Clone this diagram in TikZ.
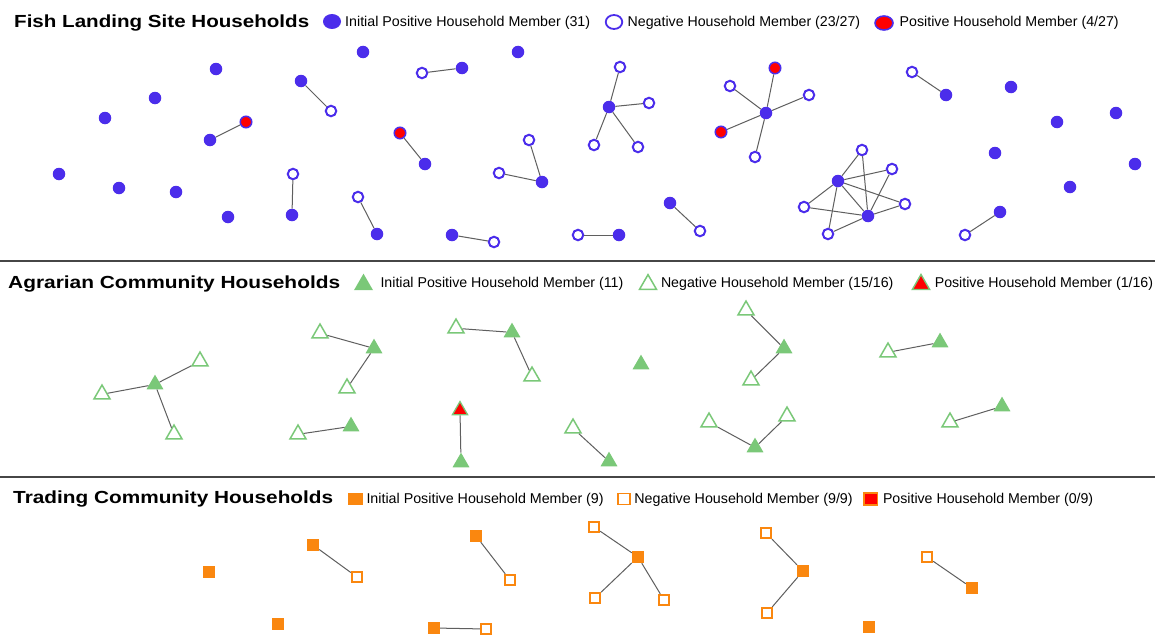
\documentclass[tikz,border=0pt]{standalone}
\usepackage{graphicx}
\usepackage{fontspec}
\setmainfont{Liberation Sans}
\usetikzlibrary{shapes.geometric}
\definecolor{fblue}{RGB}{75,45,235}
\definecolor{agreen}{RGB}{122,200,120}
\definecolor{torange}{RGB}{250,135,15}
\definecolor{edgegray}{RGB}{95,95,95}
\definecolor{rulegray}{RGB}{70,70,70}
\newcommand{\ttl}[2]{\resizebox{#1pt}{\height}{\fontsize{17.5}{20}\selectfont\bfseries #2}}
\newcommand{\lgd}[2]{\resizebox{#1pt}{\height}{\fontsize{14.2}{17}\selectfont #2}}
\begin{document}
\begin{tikzpicture}[x=1pt,y=-1pt,
  fpos/.style={circle,fill=fblue,inner sep=0,minimum size=12.5pt},
  fneg/.style={circle,draw=fblue,fill=white,line width=2pt,inner sep=0,minimum size=10.5pt},
  fred/.style={circle,fill=red,draw=fblue,line width=1.5pt,inner sep=0,minimum size=11.5pt},
  apos/.style={regular polygon,regular polygon sides=3,fill=agreen,inner sep=0,minimum size=19.5pt,yshift=-2.4pt},
  aneg/.style={regular polygon,regular polygon sides=3,draw=agreen,fill=white,line width=1.5pt,inner sep=0,minimum size=18.5pt,yshift=-2.3pt},
  ared/.style={regular polygon,regular polygon sides=3,fill=red,draw=agreen,line width=1.3pt,inner sep=0,minimum size=17.5pt,yshift=-2.3pt},
  tpos/.style={rectangle,fill=torange,inner sep=0,minimum size=12pt},
  tneg/.style={rectangle,draw=torange,fill=white,line width=1.8pt,inner sep=0,minimum size=10.5pt},
  tred/.style={rectangle,fill=red,draw=torange,line width=1.5pt,inner sep=0},
  link/.style={draw=edgegray,line width=1pt},
  ttlnode/.style={anchor=base west,inner sep=0},
  lgdnode/.style={anchor=base west,inner sep=0}]
\useasboundingbox (0,0) rectangle (1155,634);
\fill[white] (0,0) rectangle (1155,634);

% dividers
\coordinate (d1l) at (0,261); \coordinate (d1r) at (1155,261);
\coordinate (d2l) at (0,477); \coordinate (d2r) at (1155,477);
\draw[rulegray,line width=2pt] (d1l) -- (d1r);
\draw[rulegray,line width=2pt] (d2l) -- (d2r);

% ---------------- Fish section header ----------------
\node[ttlnode] (tfish) at (14,28) {\ttl{295}{Fish Landing Site Households}};
\node[ellipse,fill=fblue,inner sep=0,minimum width=18pt,minimum height=15pt] (lf1) at (332,21.5) {};
\node[lgdnode] (lft1) at (345,27) {\lgd{245}{Initial Positive Household Member (31)}};
\node[ellipse,draw=fblue,fill=white,line width=1.8pt,inner sep=0,minimum width=16.5pt,minimum height=14pt] (lf2) at (614,22) {};
\node[lgdnode] (lft2) at (627.5,27) {\lgd{232.5}{Negative Household Member (23/27)}};
\node[ellipse,fill=red,draw=fblue,line width=1.6pt,inner sep=0,minimum width=18pt,minimum height=14pt] (lf3) at (884,23) {};
\node[lgdnode] (lft3) at (899.5,27) {\lgd{219}{Positive Household Member (4/27)}};

% ---------------- Fish nodes ----------------
\node[fpos] (f1) at (363,52) {};
\node[fpos] (f2) at (518,52) {};
\node[fpos] (f3) at (216,69) {};
\node[fneg] (f4n) at (422,73) {};
\node[fpos] (f4) at (462,68) {};
\node[fpos] (f5) at (301,81) {};
\node[fneg] (f5n) at (331,111) {};
\node[fpos] (f6) at (155,98) {};
\node[fpos] (f7) at (105,118) {};
\node[fred] (f8r) at (246,122) {};
\node[fpos] (f8) at (210,140) {};
\node[fred] (f9r) at (400,133) {};
\node[fpos] (f9) at (425,164) {};
\node[fneg] (f10a) at (529,140) {};
\node[fpos] (f10) at (542,182) {};
\node[fneg] (f10b) at (499,173) {};
\node[fpos] (f11) at (59,174) {};
\node[fpos] (f12) at (119,188) {};
\node[fpos] (f13) at (176,192) {};
\node[fneg] (f14n) at (293,174) {};
\node[fpos] (f14) at (292,215) {};
\node[fpos] (f15) at (228,217) {};
\node[fneg] (f16n) at (358,197) {};
\node[fpos] (f16) at (377,234) {};
\node[fpos] (f17) at (452,235) {};
\node[fneg] (f17n) at (494,242) {};
\node[fneg] (f18n) at (578,235) {};
\node[fpos] (f18) at (619,235) {};
\node[fpos] (f19) at (670,203) {};
\node[fneg] (f19n) at (700,231) {};
\node[fpos] (s1) at (609,107) {};
\node[fneg] (s1a) at (620,67) {};
\node[fneg] (s1b) at (649,103) {};
\node[fneg] (s1c) at (594,145) {};
\node[fneg] (s1d) at (638,147) {};
\node[fpos] (s2) at (766,113) {};
\node[fred] (s2a) at (775,68) {};
\node[fneg] (s2b) at (730,86) {};
\node[fneg] (s2c) at (809,95) {};
\node[fred] (s2d) at (721,132) {};
\node[fneg] (s2e) at (755,157) {};
\node[fneg] (f20n) at (912,72) {};
\node[fpos] (f20) at (946,95) {};
\node[fpos] (f21) at (1011,87) {};
\node[fpos] (f22) at (1116,113) {};
\node[fpos] (f23) at (1057,122) {};
\node[fpos] (f24) at (995,153) {};
\node[fpos] (f25) at (1135,164) {};
\node[fpos] (f26) at (1070,187) {};
\node[fpos] (f27) at (1000,212) {};
\node[fneg] (f27n) at (965,235) {};
\node[fpos] (cA) at (838,181) {};
\node[fpos] (cB) at (868,216) {};
\node[fneg] (c1) at (862,150) {};
\node[fneg] (c2) at (892,169) {};
\node[fneg] (c3) at (804,207) {};
\node[fneg] (c4) at (905,204) {};
\node[fneg] (c5) at (828,234) {};

\draw[link] (f4n) -- (f4);
\draw[link] (f5) -- (f5n);
\draw[link] (f8r) -- (f8);
\draw[link] (f9r) -- (f9);
\draw[link] (f10a) -- (f10);
\draw[link] (f10b) -- (f10);
\draw[link] (f14n) -- (f14);
\draw[link] (f16n) -- (f16);
\draw[link] (f17) -- (f17n);
\draw[link] (f18n) -- (f18);
\draw[link] (f19) -- (f19n);
\foreach \n in {s1a,s1b,s1c,s1d} \draw[link] (s1) -- (\n);
\foreach \n in {s2a,s2b,s2c,s2d,s2e} \draw[link] (s2) -- (\n);
\draw[link] (f20n) -- (f20);
\draw[link] (f27) -- (f27n);
\foreach \n in {c1,c2,c3,c4,c5,cB} \draw[link] (cA) -- (\n);
\foreach \n in {c1,c2,c3,c4,c5} \draw[link] (cB) -- (\n);

% ---------------- Agrarian section header ----------------
\node[ttlnode] (tagr) at (8,288) {\ttl{332}{Agrarian Community Households}};
\node[regular polygon,regular polygon sides=3,fill=agreen,inner sep=0,minimum size=22pt,yshift=-2.7pt] (la1) at (363.5,282) {};
\node[lgdnode] (lat1) at (380.3,287.5) {\lgd{242.8}{Initial Positive Household Member (11)}};
\node[regular polygon,regular polygon sides=3,draw=agreen,fill=white,line width=1.5pt,inner sep=0,minimum size=19.5pt,yshift=-2.4pt] (la2) at (648,282) {};
\node[lgdnode] (lat2) at (660.8,287.5) {\lgd{232.4}{Negative Household Member (15/16)}};
\node[regular polygon,regular polygon sides=3,fill=red,draw=agreen,line width=1.4pt,inner sep=0,minimum size=20pt,yshift=-2.5pt] (la3) at (921,282) {};
\node[lgdnode] (lat3) at (934.6,287.5) {\lgd{218.3}{Positive Household Member (1/16)}};

% ---------------- Agrarian nodes ----------------
\node[apos] (a1) at (155,382) {};
\node[aneg] (a1a) at (102,392) {};
\node[aneg] (a1b) at (200,359) {};
\node[aneg] (a1c) at (174,432) {};
\node[aneg] (a2a) at (320,331) {};
\node[apos] (a2) at (374,346) {};
\node[aneg] (a2b) at (347,386) {};
\node[aneg] (a3a) at (456,326) {};
\node[apos] (a3) at (512,330) {};
\node[aneg] (a3b) at (532,374) {};
\node[ared] (a4r) at (460,408) {};
\node[apos] (a4) at (461,460) {};
\node[apos] (a5) at (351,424) {};
\node[aneg] (a5n) at (298,432) {};
\node[aneg] (a6n) at (573,426) {};
\node[apos] (a6) at (609,459) {};
\node[apos] (a7) at (641,362) {};
\node[aneg] (a8a) at (746,308) {};
\node[apos] (a8) at (784,346) {};
\node[aneg] (a8b) at (751,378) {};
\node[aneg] (a9n) at (888,350) {};
\node[apos] (a9) at (940,340) {};
\node[aneg] (a10a) at (709,420) {};
\node[apos] (a10) at (755,445) {};
\node[aneg] (a10b) at (787,414) {};
\node[aneg] (a11n) at (950,420) {};
\node[apos] (a11) at (1002,404) {};

\foreach \n in {a1a,a1b,a1c} \draw[link] (a1) -- (\n);
\draw[link] (a2a) -- (a2);
\draw[link] (a2) -- (a2b);
\draw[link] (a3a) -- (a3);
\draw[link] (a3) -- (a3b);
\draw[link] (a4r) -- (a4);
\draw[link] (a5n) -- (a5);
\draw[link] (a6n) -- (a6);
\draw[link] (a8a) -- (a8);
\draw[link] (a8) -- (a8b);
\draw[link] (a9n) -- (a9);
\draw[link] (a10a) -- (a10);
\draw[link] (a10) -- (a10b);
\draw[link] (a11n) -- (a11);

% ---------------- Trading section header ----------------
\node[ttlnode] (ttrd) at (13,503.5) {\ttl{320}{Trading Community Households}};
\node[rectangle,fill=torange,inner sep=0,minimum width=15pt,minimum height=12.5pt] (lt1) at (355,499) {};
\node[lgdnode] (ltt1) at (366.3,503.5) {\lgd{237.2}{Initial Positive Household Member (9)}};
\node[rectangle,draw=torange,fill=white,line width=1.6pt,inner sep=0,minimum width=12pt,minimum height=11pt] (lt2) at (624,499) {};
\node[lgdnode] (ltt2) at (634.2,503.5) {\lgd{218.3}{Negative Household Member (9/9)}};
\node[tred,minimum width=13.5pt,minimum height=12pt] (lt3) at (870.6,499) {};
\node[lgdnode] (ltt3) at (882.8,503.5) {\lgd{210.2}{Positive Household Member (0/9)}};

% ---------------- Trading nodes ----------------
\node[tpos] (t1) at (209,572) {};
\node[tpos] (t2) at (313,545) {};
\node[tneg] (t2n) at (357,577) {};
\node[tpos] (t3) at (476,536) {};
\node[tneg] (t3n) at (510,580) {};
\node[tpos] (t4) at (278,624) {};
\node[tpos] (t5) at (434,628) {};
\node[tneg] (t5n) at (486,629) {};
\node[tpos] (t6) at (638,557) {};
\node[tneg] (t6a) at (594,527) {};
\node[tneg] (t6b) at (595,598) {};
\node[tneg] (t6c) at (664,600) {};
\node[tpos] (t7) at (803,571) {};
\node[tneg] (t7a) at (766,533) {};
\node[tneg] (t7b) at (767,613) {};
\node[tneg] (t8n) at (927,557) {};
\node[tpos] (t8) at (972,588) {};
\node[tpos] (t9) at (869,627) {};

\draw[link] (t2) -- (t2n);
\draw[link] (t3) -- (t3n);
\draw[link] (t5) -- (t5n);
\foreach \n in {t6a,t6b,t6c} \draw[link] (t6) -- (\n);
\draw[link] (t7a) -- (t7);
\draw[link] (t7) -- (t7b);
\draw[link] (t8n) -- (t8);
\end{tikzpicture}
\end{document}
